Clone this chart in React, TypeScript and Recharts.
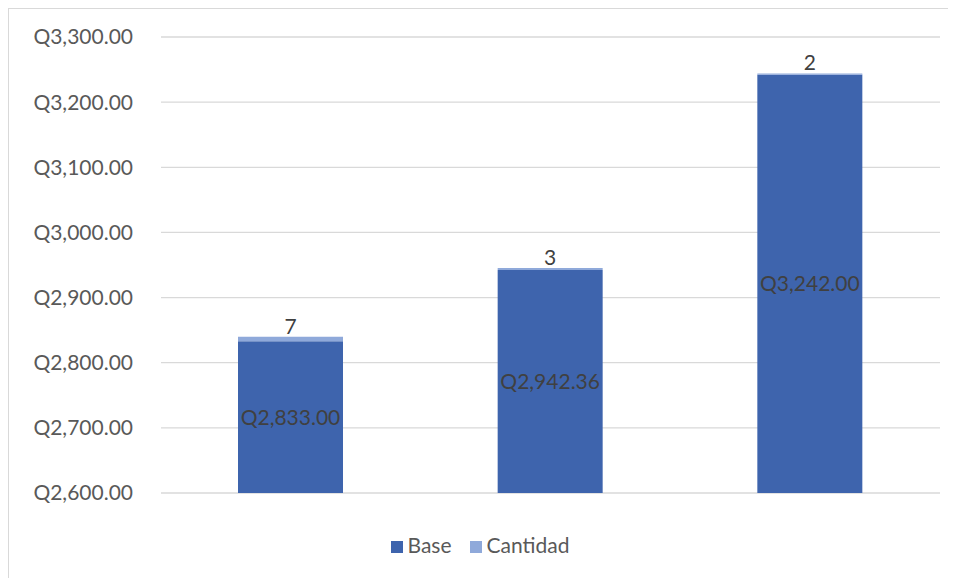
import React from "react";
import { BarChart, Bar, XAxis, YAxis, CartesianGrid, LabelList, Legend } from "recharts";

const categories = ["A", "B", "C"];
const base = [2833, 2942.36, 3242];
const cantidad = [7, 3, 2];
const yTicks = [2600, 2700, 2800, 2900, 3000, 3100, 3200, 3300];

const data = categories.map((name, i) => ({
  name,
  base: base[i],
  cantidad: cantidad[i]
}));

const BASE_COLOR = "#3E64AD";
const CANT_COLOR = "#8FA9DA";
const FONT = "Lato, 'Open Sans', sans-serif";

const money = (v: number) =>
  "Q" +
  Number(v).toLocaleString("en-US", {
    minimumFractionDigits: 2,
    maximumFractionDigits: 2
  });

const LegendBox = () => (
  <div
    style={{
      width: 942,
      height: 85,
      paddingTop: 40,
      boxSizing: "border-box",
      textAlign: "center",
      fontFamily: FONT,
      fontSize: 21,
      lineHeight: "24px",
      color: "#595959"
    }}
  >
    {[
      { label: "Base", color: BASE_COLOR },
      { label: "Cantidad", color: CANT_COLOR }
    ].map((item, i) => (
      <span key={item.label} style={{ marginLeft: i ? 18 : 0 }}>
        <span
          style={{
            display: "inline-block",
            width: 12,
            height: 12,
            background: item.color,
            marginRight: 5
          }}
        />
        {item.label}
      </span>
    ))}
  </div>
);

export default function App() {
  return (
    <div
      style={{
        width: 948,
        height: 570,
        overflow: "hidden",
        borderLeft: "1px solid #D9D9D9",
        borderTop: "1px solid #D9D9D9",
        boxSizing: "border-box",
        background: "#fff"
      }}
    >
      <BarChart
        width={942}
        height={569}
        data={data}
        margin={{ top: 28, right: 11, left: 0, bottom: 0 }}
        barSize={105}
      >
        <CartesianGrid vertical={false} stroke="#D9D9D9" strokeWidth={1.3} />
        <XAxis dataKey="name" hide />
        <YAxis
          width={152}
          domain={[2600, 3300]}
          ticks={yTicks}
          allowDataOverflow
          axisLine={false}
          tickLine={false}
          tickMargin={22}
          tickFormatter={money}
          tick={{ fill: "#595959", fontSize: 21, fontFamily: FONT }}
        />
        <Legend
          verticalAlign="bottom"
          content={() => <LegendBox />}
          wrapperStyle={{ left: 0, width: 942 }}
        />
        <Bar dataKey="base" stackId="s" fill={BASE_COLOR} isAnimationActive={false}>
          <LabelList
            dataKey="base"
            position="center"
            formatter={money}
            fill="#404040"
            style={{ fontSize: 21, fontFamily: FONT }}
          />
        </Bar>
        <Bar dataKey="cantidad" stackId="s" fill={CANT_COLOR} isAnimationActive={false}>
          <LabelList
            dataKey="cantidad"
            position="top"
            offset={3}
            fill="#404040"
            style={{ fontSize: 21, fontFamily: FONT }}
          />
        </Bar>
      </BarChart>
    </div>
  );
}
